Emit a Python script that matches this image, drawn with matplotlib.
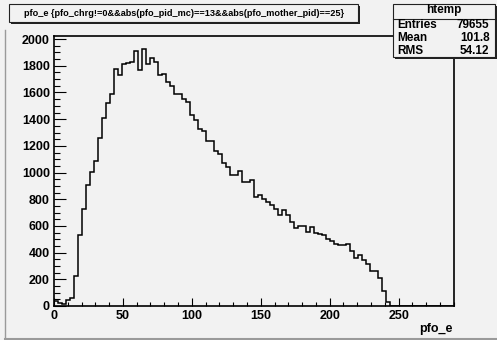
import numpy as np
import matplotlib
matplotlib.use("Agg")
import matplotlib.pyplot as plt
from matplotlib.patches import Rectangle
from matplotlib.lines import Line2D
from matplotlib.ticker import MultipleLocator

# histogram htemp : pfo_e, 100 bins from 0 to 290
x_min, x_max = 0.0, 290.0
n_bins = 100
counts = [
    37, 25, 17, 47, 60, 225, 535, 725, 905, 1005,
    1090, 1260, 1412, 1525, 1585, 1777, 1730, 1810, 1820, 1825,
    1912, 1770, 1927, 1812, 1860, 1830, 1730, 1740, 1675, 1650,
    1585, 1585, 1550, 1530, 1435, 1395, 1325, 1310, 1235, 1235,
    1160, 1140, 1075, 1040, 985, 980, 1010, 930, 930, 945,
    820, 835, 805, 780, 755, 730, 680, 718, 680, 630,
    585, 600, 600, 555, 590, 550, 540, 530, 500, 485,
    465, 455, 455, 465, 410, 360, 380, 345, 315, 265,
    265, 210, 110, 33, 3, 0, 0, 0, 0, 0,
    0, 0, 0, 0, 0, 0, 0, 0, 0, 0,
]
title = "pfo_e {pfo_chrg!=0&&abs(pfo_pid_mc)==13&&abs(pfo_mother_pid)==25}"
stats_name = "htemp"
stats_rows = [("Entries", "79655"), ("Mean", "101.8"), ("RMS", "54.12")]
x_title = "pfo_e"

W, H = 497, 340
bg = "#f2f2f2"
font = "Liberation Sans"


def fx(x):
    return x / W


def fy(y):
    return 1 - y / H


fig = plt.figure(figsize=(W / 100, H / 100), dpi=100, facecolor=bg)

# frame of the pad
ax = fig.add_axes([fx(54), fy(306), fx(453.7) - fx(54), fy(36) - fy(306)])
ax.set_facecolor(bg)
edges = np.linspace(x_min, x_max, n_bins + 1)
ax.stairs(counts, edges, color="black", lw=1.1, baseline=0)
ax.set_xlim(x_min, x_max)
ax.set_ylim(0, 1.05 * max(counts))

ax.xaxis.set_major_locator(MultipleLocator(50))
ax.xaxis.set_minor_locator(MultipleLocator(10))
ax.yaxis.set_major_locator(MultipleLocator(200))
ax.yaxis.set_minor_locator(MultipleLocator(50))
ax.tick_params(axis="both", which="both", direction="in", width=0.8,
               top=False, right=False)
ax.tick_params(axis="y", which="major", length=8.6, pad=2.9)
ax.tick_params(axis="y", which="minor", length=4.3)
ax.tick_params(axis="x", which="major", length=5.8, pad=2.9)
ax.tick_params(axis="x", which="minor", length=2.6)
for lab in ax.get_xticklabels() + ax.get_yticklabels():
    lab.set_fontfamily(font)
    lab.set_fontweight("bold")
    lab.set_fontsize(9)
for sp in ax.spines.values():
    sp.set_linewidth(1.2)

fig.text(fx(453), fy(329), x_title, ha="right", va="center",
         fontfamily=font, fontweight="bold", fontsize=9)

# title pave with shadow
fig.patches.append(Rectangle((fx(11), fy(24)), fx(358) - fx(9), fy(4) - fy(22),
                             transform=fig.transFigure, facecolor="#222222",
                             edgecolor="none", zorder=1))
fig.patches.append(Rectangle((fx(9), fy(22)), fx(358) - fx(9), fy(4) - fy(22),
                             transform=fig.transFigure, facecolor=bg,
                             edgecolor="#222222", lw=0.8, zorder=2))
fig.text(fx(184), fy(13), title, ha="center", va="center",
         fontfamily=font, fontweight="bold", fontsize=6.6, zorder=3)

# stats box
fig.patches.append(Rectangle((fx(395), fy(59)), fx(497) - fx(395), fy(6) - fy(59),
                             transform=fig.transFigure, facecolor="#222222",
                             edgecolor="none", zorder=1))
fig.patches.append(Rectangle((fx(393), fy(57)), fx(494.5) - fx(393), fy(4) - fy(57),
                             transform=fig.transFigure, facecolor=bg,
                             edgecolor="#222222", lw=0.8, zorder=2))
fig.lines.append(Line2D([fx(393), fx(494.5)], [fy(18.5), fy(18.5)],
                        transform=fig.transFigure, color="#222222", lw=0.8, zorder=3))
fig.text(fx(444), fy(10.5), stats_name, ha="center", va="center",
         fontfamily=font, fontweight="bold", fontsize=8.5, zorder=3)
for i, (name, val) in enumerate(stats_rows):
    yy = 24.5 + i * 13.3
    fig.text(fx(397), fy(yy), name, ha="left", va="center",
             fontfamily=font, fontweight="bold", fontsize=8.5, zorder=3)
    fig.text(fx(489.5), fy(yy), val, ha="right", va="center",
             fontfamily=font, fontweight="bold", fontsize=8.5, zorder=3)

# canvas border (bevel)
fig.lines.append(Line2D([fx(5), fx(5)], [fy(30), fy(338)],
                        transform=fig.transFigure, color="#9a9a9a", lw=1.0))
fig.lines.append(Line2D([fx(5), fx(497)], [fy(338.5), fy(338.5)],
                        transform=fig.transFigure, color="#9a9a9a", lw=1.5))

fig.savefig("out.png", dpi=100, facecolor=bg)
